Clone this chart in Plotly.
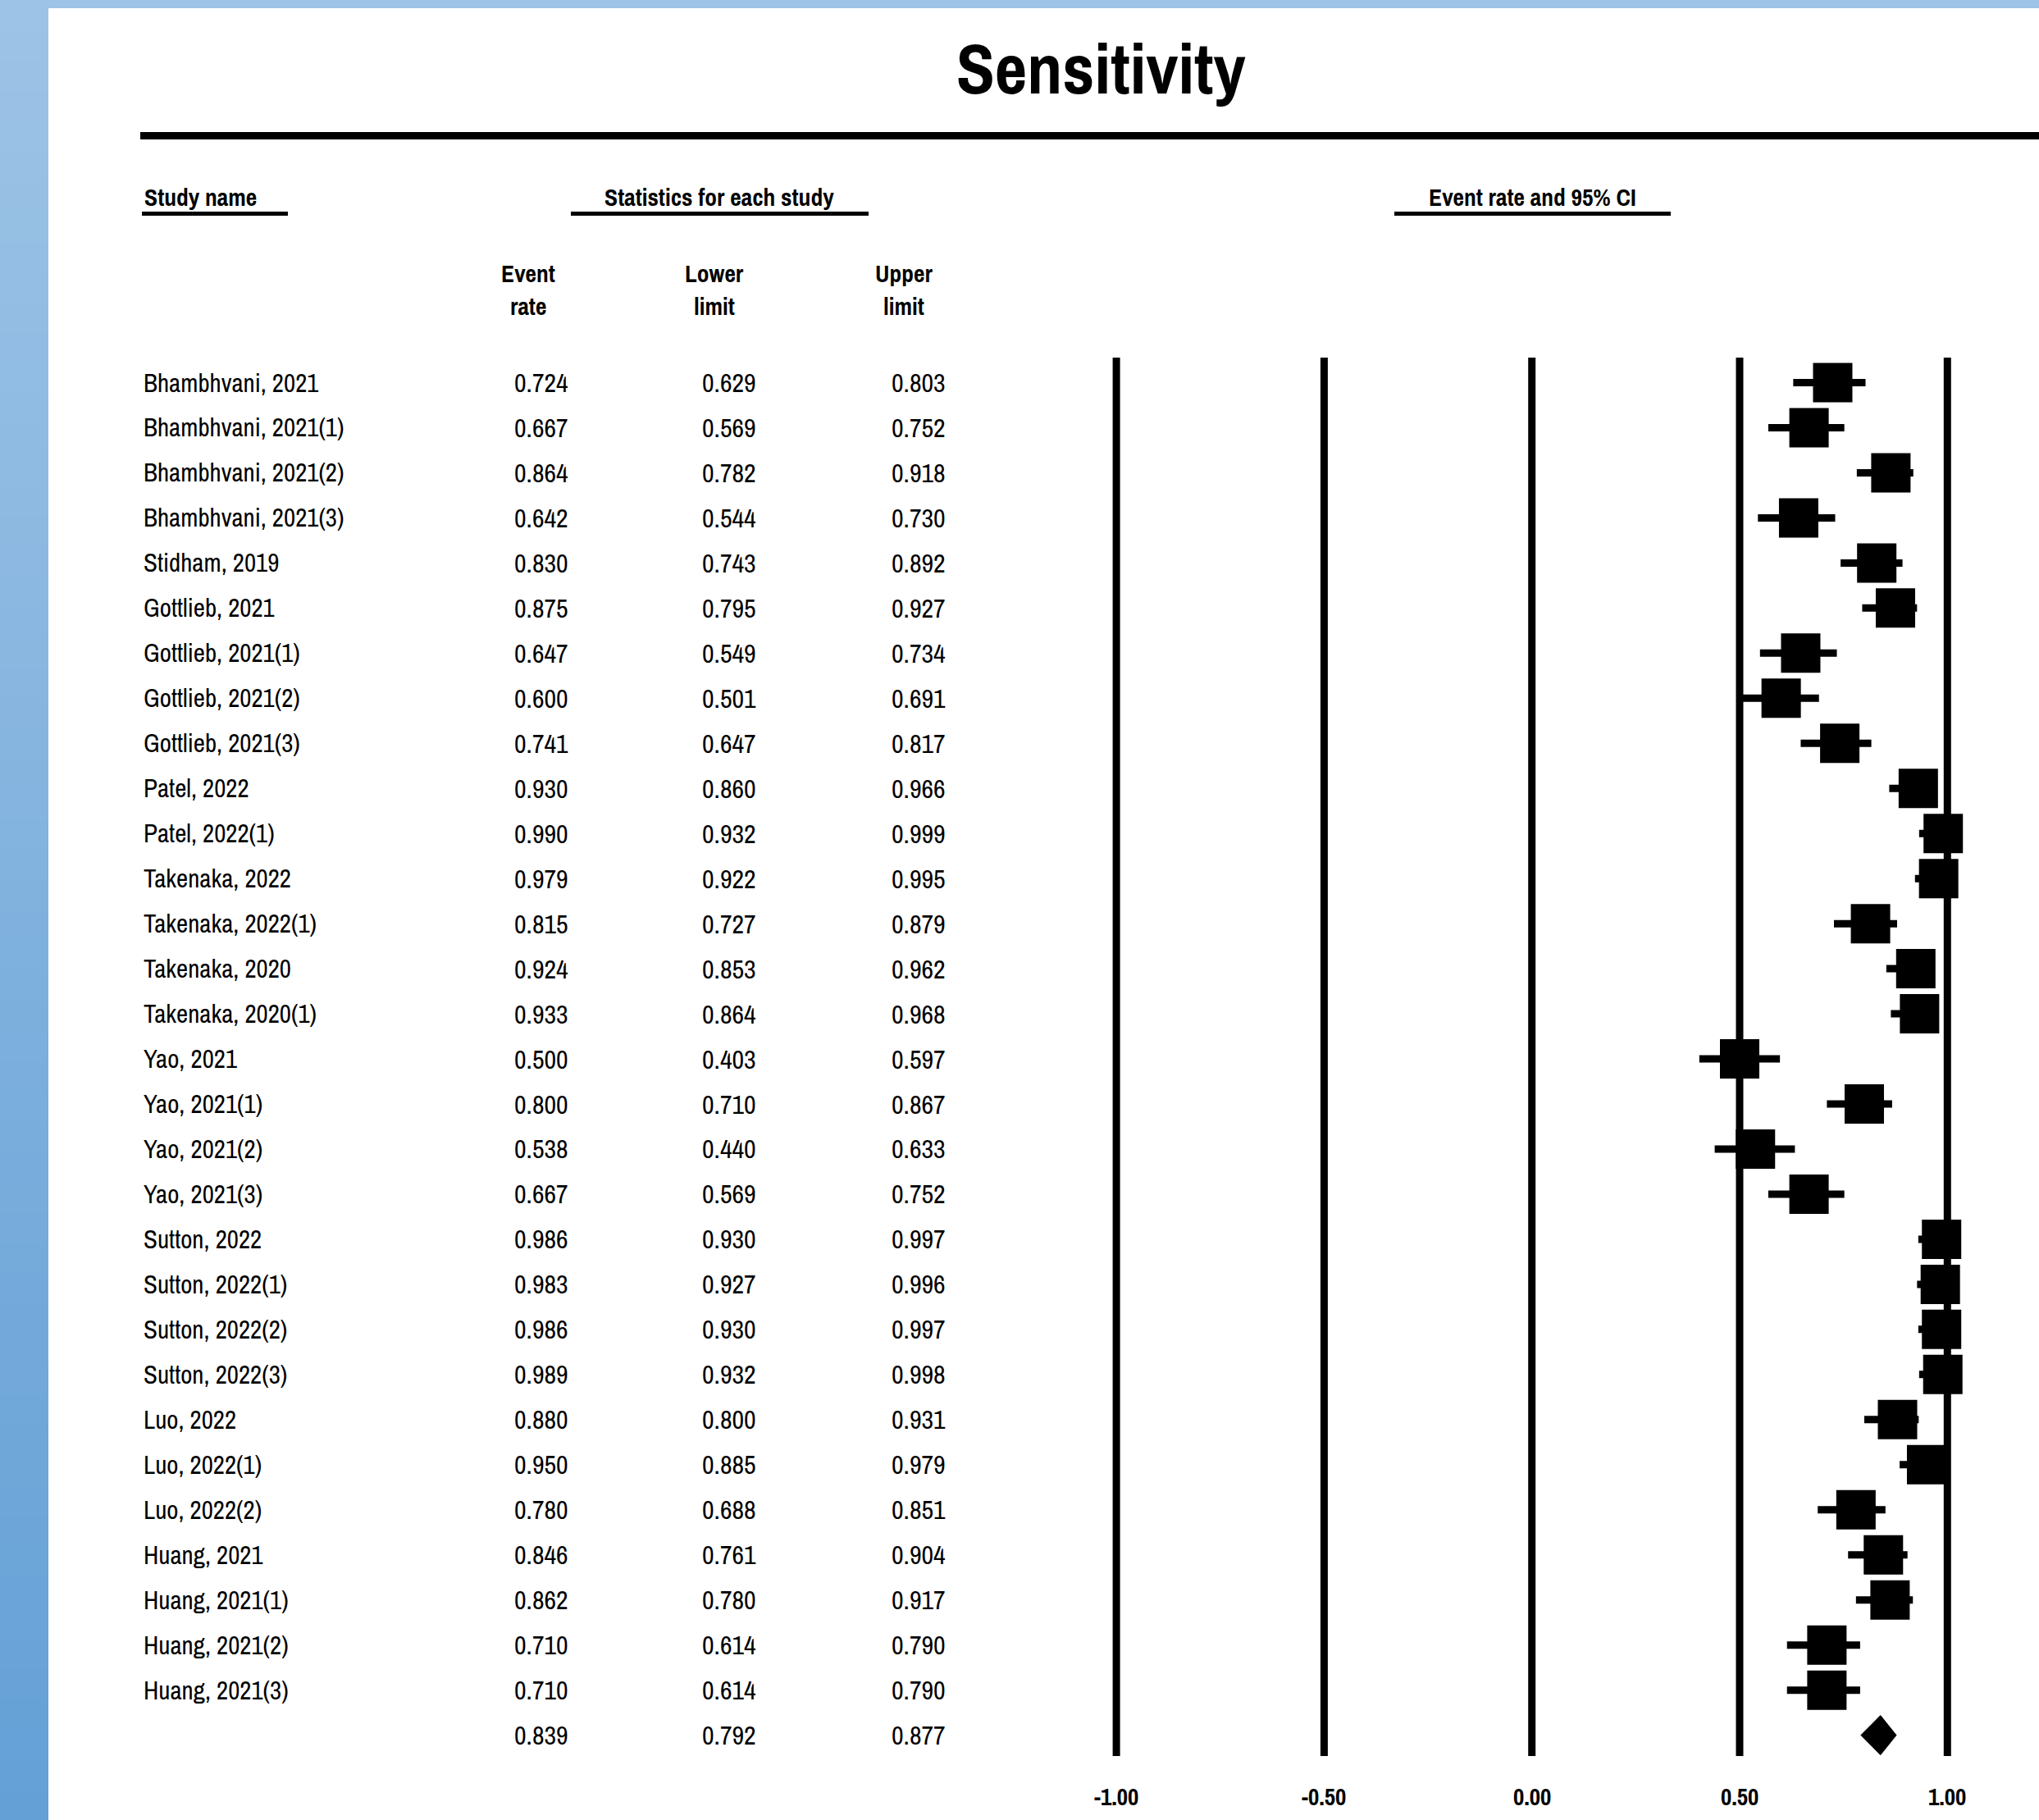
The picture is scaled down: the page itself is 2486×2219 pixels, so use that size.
import plotly.graph_objects as go

# ---------------- data ----------------
study_names = [
    "Bhambhvani, 2021", "Bhambhvani, 2021(1)", "Bhambhvani, 2021(2)", "Bhambhvani, 2021(3)",
    "Stidham, 2019", "Gottlieb, 2021", "Gottlieb, 2021(1)", "Gottlieb, 2021(2)",
    "Gottlieb, 2021(3)", "Patel, 2022", "Patel, 2022(1)", "Takenaka, 2022",
    "Takenaka, 2022(1)", "Takenaka, 2020", "Takenaka, 2020(1)", "Yao, 2021",
    "Yao, 2021(1)", "Yao, 2021(2)", "Yao, 2021(3)", "Sutton, 2022",
    "Sutton, 2022(1)", "Sutton, 2022(2)", "Sutton, 2022(3)", "Luo, 2022",
    "Luo, 2022(1)", "Luo, 2022(2)", "Huang, 2021", "Huang, 2021(1)",
    "Huang, 2021(2)", "Huang, 2021(3)",
]
event_rate = [0.724, 0.667, 0.864, 0.642, 0.830, 0.875, 0.647, 0.600, 0.741, 0.930,
              0.990, 0.979, 0.815, 0.924, 0.933, 0.500, 0.800, 0.538, 0.667, 0.986,
              0.983, 0.986, 0.989, 0.880, 0.950, 0.780, 0.846, 0.862, 0.710, 0.710]
lower_limit = [0.629, 0.569, 0.782, 0.544, 0.743, 0.795, 0.549, 0.501, 0.647, 0.860,
               0.932, 0.922, 0.727, 0.853, 0.864, 0.403, 0.710, 0.440, 0.569, 0.930,
               0.927, 0.930, 0.932, 0.800, 0.885, 0.688, 0.761, 0.780, 0.614, 0.614]
upper_limit = [0.803, 0.752, 0.918, 0.730, 0.892, 0.927, 0.734, 0.691, 0.817, 0.966,
               0.999, 0.995, 0.879, 0.962, 0.968, 0.597, 0.867, 0.633, 0.752, 0.997,
               0.996, 0.997, 0.998, 0.931, 0.979, 0.851, 0.904, 0.917, 0.790, 0.790]
summary_rate = 0.839
summary_lower = 0.792
summary_upper = 0.877
tick_values = [-1.0, -0.5, 0.0, 0.5, 1.0]
tick_labels = ["-1.00", "-0.50", "0.00", "0.50", "1.00"]

# ---------------- layout constants ----------------
W, H = 2486, 2219
ZERO_PX, UNIT_PX = 1867.7, 506.6        # x pixel of 0 and pixels per unit
ROW0_PX, ROW_PX = 466.5, 54.97          # y pixel of first row and row spacing
FONT = "'Archivo Narrow', 'Roboto Condensed', 'Liberation Sans', Arial, sans-serif"
BLACK = "#000000"


def px(p):
    return p / W


def py(p):
    return 1 - p / H


n = len(study_names)
rows = list(range(n))
summary_row = n

fig = go.Figure()

# whiskers + squares
fig.add_trace(go.Scatter(
    x=event_rate, y=rows, mode="markers",
    marker=dict(symbol="square", size=48, color=BLACK, line=dict(width=0)),
    error_x=dict(type="data", symmetric=False,
                 array=[u - e for u, e in zip(upper_limit, event_rate)],
                 arrayminus=[e - l for e, l in zip(event_rate, lower_limit)],
                 thickness=9, width=0, color=BLACK),
    hoverinfo="skip", showlegend=False,
))

# summary diamond
dh = 24 / ROW_PX
fig.add_trace(go.Scatter(
    x=[summary_lower, summary_rate, summary_upper, summary_rate, summary_lower],
    y=[summary_row, summary_row - dh, summary_row, summary_row + dh, summary_row],
    mode="lines", fill="toself", fillcolor=BLACK, line=dict(color=BLACK, width=1),
    hoverinfo="skip", showlegend=False,
))

shapes = []
# background frame (light blue top, blue gradient left)
top_c = (157, 195, 230)
bot_c = (100, 160, 214)
nb = 60
for k in range(nb):
    t = k / (nb - 1)
    c = tuple(round(a + (b - a) * t) for a, b in zip(top_c, bot_c))
    shapes.append(dict(type="rect", xref="paper", yref="paper", layer="below",
                       x0=0, x1=px(59), y0=py(H * k / nb), y1=py(H * (k + 1) / nb + 1),
                       fillcolor="rgb(%d,%d,%d)" % c, line=dict(width=0)))
shapes.append(dict(type="rect", xref="paper", yref="paper", layer="below",
                   x0=0, x1=1, y0=py(10), y1=1,
                   fillcolor="rgb(157,195,230)", line=dict(width=0)))

# thick rule under title
shapes.append(dict(type="line", xref="paper", yref="paper",
                   x0=px(171), x1=1, y0=py(165.5), y1=py(165.5),
                   line=dict(color=BLACK, width=9)))
# header underlines
for x0, x1 in [(173, 351), (696, 1059), (1700, 2037)]:
    shapes.append(dict(type="line", xref="paper", yref="paper",
                       x0=px(x0), x1=px(x1), y0=py(260.5), y1=py(260.5),
                       line=dict(color=BLACK, width=5)))

# vertical reference lines
line_top = (436 - ROW0_PX) / ROW_PX
line_bot = (2141 - ROW0_PX) / ROW_PX
for tv in tick_values:
    shapes.append(dict(type="line", xref="x", yref="y",
                       x0=tv, x1=tv, y0=line_top, y1=line_bot,
                       line=dict(color=BLACK, width=9)))

annotations = []


def ann(text, x, y, size, bold=False, xanchor="center", xref="paper", yref="paper"):
    annotations.append(dict(
        text=("<b>%s</b>" % text) if bold else text, x=x, y=y, xref=xref, yref=yref,
        xanchor=xanchor, yanchor="middle", showarrow=False,
        font=dict(family=FONT, size=size, color=BLACK)))


# title
ann("Sensitivity", px(1343), py(83), 86, bold=True)
# headers
HEAD_SIZE = 29.5
ann("Study name", px(174), py(240), HEAD_SIZE, bold=True, xanchor="left")
ann("Statistics for each study", px(877), py(240), HEAD_SIZE, bold=True)
ann("Event rate and 95% CI", px(1869), py(240), HEAD_SIZE, bold=True)
for cx, l1, l2 in [(644, "Event", "rate"), (871, "Lower", "limit"), (1102, "Upper", "limit")]:
    ann(l1, px(cx), py(333), HEAD_SIZE, bold=True)
    ann(l2, px(cx), py(373), HEAD_SIZE, bold=True)

# table rows
NAME_SIZE, NUM_SIZE = 31, 32
for i, name in enumerate(study_names):
    ann(name, px(173), i, NAME_SIZE, xanchor="left", yref="y")
    ann("%.3f" % event_rate[i], px(695), i, NUM_SIZE, xanchor="right", yref="y")
    ann("%.3f" % lower_limit[i], px(924), i, NUM_SIZE, xanchor="right", yref="y")
    ann("%.3f" % upper_limit[i], px(1155), i, NUM_SIZE, xanchor="right", yref="y")
ann("%.3f" % summary_rate, px(695), summary_row, NUM_SIZE, xanchor="right", yref="y")
ann("%.3f" % summary_lower, px(924), summary_row, NUM_SIZE, xanchor="right", yref="y")
ann("%.3f" % summary_upper, px(1155), summary_row, NUM_SIZE, xanchor="right", yref="y")

# axis tick labels
for tv, tl in zip(tick_values, tick_labels):
    ann(tl, tv, py(2190), 29, bold=True, xref="x")

fig.update_layout(
    width=W, height=H, autosize=False,
    margin=dict(l=0, r=0, t=0, b=0, pad=0),
    paper_bgcolor="white", plot_bgcolor="white",
    xaxis=dict(range=[(0 - ZERO_PX) / UNIT_PX, (W - ZERO_PX) / UNIT_PX], visible=False, fixedrange=True),
    yaxis=dict(range=[(H - ROW0_PX) / ROW_PX, (0 - ROW0_PX) / ROW_PX], visible=False, fixedrange=True),
    shapes=shapes, annotations=annotations, showlegend=False,
)

fig.write_html("out.html", config={"displayModeBar": False},
               post_script="document.body.style.margin='0px';")
